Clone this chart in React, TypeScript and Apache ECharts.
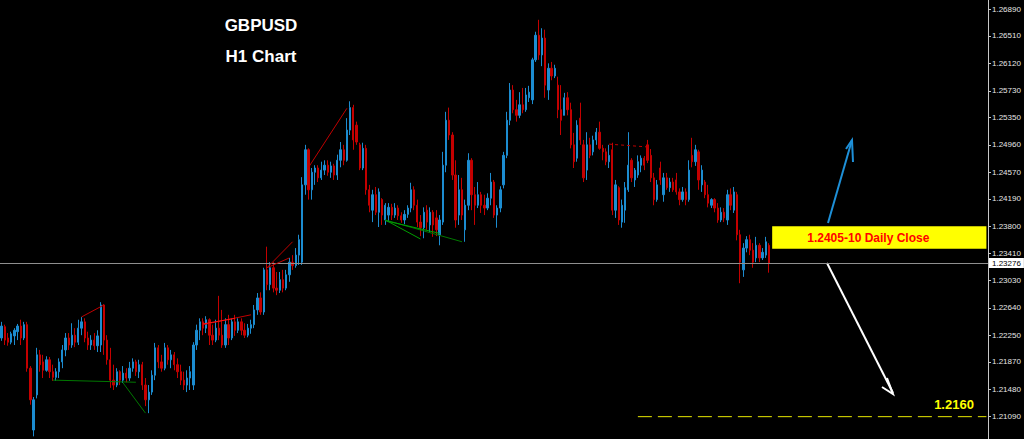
import React, { useEffect, useRef } from "react";
import * as echarts from "echarts";

// ---- data -------------------------------------------------------------
const SLOTS = 309;
const categories = Array.from({ length: SLOTS }, (_, i) => String(i));

// H1 bars: [open, close, low, high]
const barsA = [
  [1.2221, 1.2238, 1.2217, 1.2244], [1.2237, 1.2218, 1.2211, 1.224], [1.2221, 1.2215, 1.221, 1.2228],
  [1.2215, 1.2227, 1.2212, 1.223], [1.2224, 1.2232, 1.2211, 1.2235], [1.223, 1.2238, 1.2218, 1.2241],
  [1.2238, 1.2221, 1.2211, 1.2247], [1.2221, 1.224, 1.2218, 1.2244], [1.224, 1.2178, 1.2173, 1.2244],
  [1.2178, 1.2133, 1.2126, 1.2181], [1.209, 1.2133, 1.2081, 1.2137], [1.214, 1.2197, 1.2135, 1.2207],
  [1.2197, 1.2183, 1.2173, 1.2204], [1.2187, 1.2175, 1.2164, 1.2197], [1.2175, 1.219, 1.2173, 1.2195],
  [1.219, 1.2173, 1.2164, 1.2194], [1.2173, 1.2165, 1.216, 1.2183], [1.2165, 1.2173, 1.216, 1.2178],
  [1.2173, 1.2187, 1.2164, 1.2192], [1.2187, 1.2204, 1.2178, 1.2211], [1.2204, 1.2221, 1.2195, 1.2228],
  [1.2221, 1.2211, 1.2204, 1.2228], [1.2211, 1.2225, 1.2207, 1.2242], [1.2225, 1.2215, 1.2208, 1.2235],
  [1.2215, 1.2235, 1.2211, 1.2247], [1.2235, 1.2244, 1.2225, 1.2251], [1.2244, 1.2221, 1.2215, 1.2249],
  [1.2221, 1.2211, 1.2204, 1.223], [1.2211, 1.2218, 1.2204, 1.2225], [1.2218, 1.221, 1.2204, 1.2228],
  [1.221, 1.2224, 1.2201, 1.2232], [1.2211, 1.2268, 1.2201, 1.2272], [1.2268, 1.2218, 1.2197, 1.2269],
  [1.2218, 1.219, 1.2183, 1.2225], [1.219, 1.2161, 1.215, 1.2207], [1.2161, 1.2154, 1.2147, 1.2183],
  [1.2154, 1.2173, 1.2151, 1.2178], [1.2173, 1.2161, 1.2154, 1.2175], [1.2161, 1.2171, 1.2157, 1.2181],
  [1.2171, 1.2164, 1.2158, 1.2178], [1.2164, 1.2178, 1.216, 1.2187],
];
const barsB = [
  [1.2178, 1.2187, 1.2173, 1.2192], [1.2187, 1.2173, 1.2167, 1.219], [1.2173, 1.2183, 1.2164, 1.219],
  [1.2183, 1.2154, 1.2147, 1.2187], [1.2154, 1.2133, 1.2124, 1.2164], [1.2133, 1.2144, 1.2114, 1.2154],
  [1.2144, 1.2168, 1.214, 1.2175], [1.2168, 1.2207, 1.2161, 1.2214], [1.2207, 1.2187, 1.2178, 1.2211],
  [1.2187, 1.2178, 1.2173, 1.2197], [1.2178, 1.2207, 1.2175, 1.2214], [1.2207, 1.219, 1.2183, 1.2211],
  [1.219, 1.2197, 1.2178, 1.2204], [1.2197, 1.2183, 1.2175, 1.2201], [1.2183, 1.2173, 1.2164, 1.2192],
  [1.2173, 1.2161, 1.2154, 1.2183], [1.2161, 1.2154, 1.2147, 1.2173], [1.2154, 1.2164, 1.2144, 1.2175],
  [1.2164, 1.2173, 1.2147, 1.2181], [1.2154, 1.2211, 1.2147, 1.2215], [1.2211, 1.2232, 1.2204, 1.224],
  [1.2232, 1.2244, 1.2218, 1.2249], [1.2244, 1.2235, 1.2225, 1.2249], [1.2235, 1.2247, 1.2228, 1.2252],
  [1.2247, 1.2225, 1.2211, 1.2249], [1.2225, 1.2218, 1.2211, 1.224], [1.2218, 1.2235, 1.2215, 1.2247],
  [1.2235, 1.2225, 1.2218, 1.2281], [1.2225, 1.2211, 1.2207, 1.2261], [1.2211, 1.224, 1.2207, 1.2249],
  [1.224, 1.2221, 1.2211, 1.2254], [1.2221, 1.2244, 1.2218, 1.2249], [1.2244, 1.2232, 1.2224, 1.2254],
  [1.2232, 1.2244, 1.2228, 1.2249], [1.2244, 1.2232, 1.2225, 1.2249], [1.2232, 1.2225, 1.2221, 1.2242],
  [1.2225, 1.2235, 1.2222, 1.2241], [1.2235, 1.224, 1.2227, 1.2247], [1.224, 1.2261, 1.2235, 1.2268],
  [1.2261, 1.2278, 1.2254, 1.2285], [1.2278, 1.2258, 1.2254, 1.2286],
];
const barsC = [
  [1.2258, 1.2318, 1.2254, 1.2321], [1.2318, 1.2297, 1.2289, 1.2351], [1.2297, 1.2321, 1.2289, 1.2329],
  [1.2321, 1.2292, 1.2286, 1.2329], [1.2292, 1.2289, 1.2282, 1.2315], [1.2289, 1.2304, 1.2285, 1.2315],
  [1.2304, 1.2292, 1.2286, 1.2318], [1.2292, 1.2311, 1.2289, 1.2318], [1.2311, 1.2329, 1.2301, 1.2335],
  [1.2329, 1.2324, 1.2318, 1.2339], [1.2324, 1.2339, 1.2321, 1.2349], [1.2339, 1.2361, 1.2325, 1.2368],
  [1.2329, 1.2439, 1.2325, 1.245], [1.2439, 1.2489, 1.2425, 1.2496], [1.2489, 1.2432, 1.2418, 1.2491],
  [1.2432, 1.2457, 1.2418, 1.2463], [1.2457, 1.2463, 1.2439, 1.2467], [1.2463, 1.2449, 1.2443, 1.2467],
  [1.2449, 1.246, 1.2446, 1.2472], [1.246, 1.2467, 1.2453, 1.2474], [1.2467, 1.2457, 1.2452, 1.2474],
  [1.2457, 1.2466, 1.2449, 1.2472], [1.2466, 1.2453, 1.2446, 1.2469], [1.2453, 1.2474, 1.2446, 1.2482],
  [1.2474, 1.2489, 1.2464, 1.25], [1.2489, 1.2474, 1.2467, 1.2496], [1.2474, 1.2517, 1.2472, 1.2534],
  [1.2517, 1.2549, 1.251, 1.2558], [1.2549, 1.2503, 1.2489, 1.2553], [1.2524, 1.25, 1.2496, 1.2529],
  [1.2496, 1.2463, 1.246, 1.2499], [1.2463, 1.2491, 1.246, 1.2499], [1.2491, 1.2432, 1.2425, 1.2496],
  [1.2432, 1.241, 1.24, 1.2439], [1.2403, 1.2425, 1.2386, 1.2432], [1.2425, 1.24, 1.2396, 1.2436],
  [1.24, 1.2429, 1.2379, 1.2434], [1.2418, 1.2396, 1.2382, 1.242], [1.2389, 1.241, 1.2382, 1.2413],
  [1.2396, 1.2407, 1.2386, 1.2413],
];
const barsD = [
  [1.2407, 1.2396, 1.2389, 1.2412], [1.2396, 1.2406, 1.2392, 1.2413], [1.2406, 1.2395, 1.2389, 1.241],
  [1.2395, 1.2389, 1.2385, 1.24], [1.2389, 1.2397, 1.2383, 1.2403], [1.2397, 1.2406, 1.2392, 1.241],
  [1.2406, 1.2432, 1.24, 1.2442], [1.2432, 1.241, 1.2403, 1.2437], [1.241, 1.2386, 1.2379, 1.2418],
  [1.2386, 1.2378, 1.2366, 1.2396], [1.2378, 1.24, 1.2363, 1.2407], [1.2403, 1.2386, 1.2375, 1.241],
  [1.2382, 1.24, 1.2372, 1.2407], [1.24, 1.2382, 1.2365, 1.2403], [1.2392, 1.2375, 1.2366, 1.2403],
  [1.2368, 1.2389, 1.2353, 1.2396], [1.2386, 1.2467, 1.2382, 1.2486], [1.2467, 1.2531, 1.2457, 1.2543],
  [1.2531, 1.251, 1.2503, 1.2549], [1.251, 1.2453, 1.2446, 1.2514], [1.2453, 1.2389, 1.2378, 1.2474],
  [1.2396, 1.2432, 1.2382, 1.2453], [1.2432, 1.2396, 1.2389, 1.2449], [1.2375, 1.241, 1.2358, 1.2418],
  [1.241, 1.2474, 1.2403, 1.2484], [1.2474, 1.2425, 1.2403, 1.2477], [1.2425, 1.241, 1.2382, 1.2436],
  [1.241, 1.2425, 1.2406, 1.2443], [1.2425, 1.241, 1.2399, 1.2429], [1.241, 1.2406, 1.2396, 1.2425],
  [1.2406, 1.242, 1.2403, 1.2427], [1.242, 1.2443, 1.241, 1.2456], [1.2443, 1.2396, 1.2392, 1.2446],
  [1.2396, 1.2406, 1.2378, 1.241], [1.2406, 1.2432, 1.24, 1.2437], [1.2439, 1.2481, 1.2434, 1.2486],
  [1.2481, 1.2531, 1.2477, 1.2543], [1.2531, 1.2574, 1.2524, 1.2584], [1.2574, 1.2546, 1.2541, 1.2581],
  [1.2546, 1.2538, 1.2529, 1.256],
];
const barsE = [
  [1.2538, 1.2553, 1.2534, 1.2571], [1.2553, 1.2546, 1.2541, 1.2577], [1.2546, 1.2567, 1.2543, 1.2577],
  [1.2563, 1.2571, 1.2557, 1.258], [1.256, 1.2617, 1.2554, 1.262], [1.2617, 1.2652, 1.2614, 1.2657],
  [1.2652, 1.2624, 1.2617, 1.2674], [1.2624, 1.2648, 1.2608, 1.2662], [1.2648, 1.2581, 1.2563, 1.266],
  [1.2574, 1.2605, 1.256, 1.2612], [1.2605, 1.2594, 1.2588, 1.2614], [1.2594, 1.2605, 1.2591, 1.261],
  [1.2581, 1.2546, 1.2534, 1.2593], [1.2546, 1.2531, 1.251, 1.2581], [1.2538, 1.2563, 1.2538, 1.257],
  [1.2563, 1.2546, 1.2538, 1.2571], [1.2546, 1.2496, 1.2491, 1.2556], [1.2496, 1.2472, 1.2463, 1.2513],
  [1.2477, 1.2524, 1.2472, 1.2531], [1.2534, 1.2503, 1.2496, 1.2556], [1.2496, 1.2449, 1.2443, 1.2503],
  [1.246, 1.2496, 1.2446, 1.2514], [1.2496, 1.2481, 1.2477, 1.2506], [1.2486, 1.2503, 1.2481, 1.2509],
  [1.2503, 1.2514, 1.2496, 1.252], [1.2514, 1.2491, 1.2489, 1.2529], [1.2491, 1.2486, 1.2474, 1.2496],
  [1.2486, 1.2472, 1.2467, 1.2491], [1.2472, 1.2481, 1.2463, 1.2496], [1.2489, 1.2403, 1.2396, 1.2499],
  [1.2403, 1.2439, 1.2392, 1.2446], [1.2435, 1.2389, 1.2382, 1.2437], [1.2386, 1.241, 1.2378, 1.2418],
  [1.2403, 1.2435, 1.2385, 1.2443], [1.2432, 1.2467, 1.2429, 1.2514], [1.2474, 1.2449, 1.2443, 1.2477],
  [1.2446, 1.246, 1.2436, 1.2463], [1.2453, 1.2472, 1.2449, 1.2481], [1.2467, 1.2477, 1.2457, 1.2481],
  [1.2477, 1.2467, 1.246, 1.248],
];
const barsF = [
  [1.2496, 1.2474, 1.247, 1.2503], [1.2481, 1.2449, 1.2443, 1.249], [1.2449, 1.2418, 1.241, 1.2456],
  [1.2418, 1.2439, 1.2415, 1.2446], [1.2463, 1.2446, 1.2439, 1.2472], [1.2425, 1.2449, 1.2415, 1.2456],
  [1.2449, 1.2435, 1.2432, 1.2456], [1.2435, 1.2443, 1.2429, 1.2449], [1.2443, 1.2432, 1.2429, 1.2449],
  [1.2446, 1.2429, 1.2425, 1.2456], [1.2429, 1.2418, 1.241, 1.2434], [1.2418, 1.2429, 1.2415, 1.2436],
  [1.2429, 1.2418, 1.241, 1.2434], [1.2418, 1.246, 1.2415, 1.2474], [1.2481, 1.2472, 1.2464, 1.2506],
  [1.2472, 1.2489, 1.2466, 1.2496], [1.2486, 1.2446, 1.2432, 1.2489], [1.2439, 1.246, 1.2429, 1.2467],
  [1.2443, 1.2425, 1.242, 1.2446], [1.2425, 1.2413, 1.2407, 1.2439], [1.241, 1.2418, 1.2406, 1.242],
  [1.2418, 1.2406, 1.24, 1.242], [1.2406, 1.2389, 1.2385, 1.2413], [1.2389, 1.24, 1.2386, 1.2407],
  [1.24, 1.2392, 1.2386, 1.2406], [1.2389, 1.2425, 1.2382, 1.2432], [1.2425, 1.241, 1.2403, 1.2434],
  [1.2403, 1.2429, 1.2399, 1.2436], [1.2425, 1.2368, 1.236, 1.2429], [1.2368, 1.2329, 1.2299, 1.2375],
  [1.2318, 1.2349, 1.2308, 1.2356], [1.2349, 1.2361, 1.2343, 1.2366], [1.2361, 1.2346, 1.2339, 1.2368],
  [1.2346, 1.2329, 1.2321, 1.2356], [1.2335, 1.2353, 1.2329, 1.2365], [1.2353, 1.2335, 1.2329, 1.2356],
  [1.2335, 1.2343, 1.2332, 1.2349], [1.2339, 1.2358, 1.2335, 1.2365], [1.2353, 1.23276, 1.2314, 1.2356],
];

const priceTicks = [
  1.2689, 1.2651, 1.2612, 1.2573, 1.2535, 1.2496, 1.2457, 1.2419,
  1.238, 1.2341, 1.2303, 1.2264, 1.2225, 1.2187, 1.2148, 1.2109,
];
const yMin = 1.20772;
const yMax = 1.27022;
const lastPrice = 1.23276;
const dailyCloseZone = [1.2348, 1.238];
const zoneCats = ["241", "308"];
const targetLine = [["199", 1.2109], ["308", 1.2109]];
const redDashed = [["190", 1.2497], ["202", 1.2493]];

const greenLines = [
  [["16", 1.2161], ["42", 1.2158]],
  [["38", 1.2157], ["45", 1.2114]],
  [["120", 1.2389], ["131", 1.2362]],
  [["120", 1.2389], ["144", 1.2358]],
  [["120", 1.2388], ["137", 1.237]],
];
const redLines = [
  [["25", 1.2251], ["32", 1.2268]],
  [["96", 1.2464], ["108", 1.2548]],
  [["83", 1.2321], ["91", 1.2358]],
  [["83", 1.2321], ["90", 1.2335]],
  [["63", 1.224], ["78", 1.2254]],
  [["63", 1.2241], ["73", 1.2249]],
];

const UP = "#1C8CD0";
const DOWN = "#C40000";
const FONT = "Liberation Sans, Arial, sans-serif";

export default function App() {
  const ref = useRef<HTMLDivElement>(null);

  useEffect(() => {
    document.body.style.margin = "0";
    document.body.style.background = "#000";
    const chart = echarts.init(ref.current as HTMLDivElement, null, { renderer: "svg" });
    const bars = [...barsA, ...barsB, ...barsC, ...barsD, ...barsE, ...barsF];

    const seg = (pts: any, color: string, type: any = "solid", width = 1) => ({
      type: "line",
      data: pts,
      symbol: "none",
      silent: true,
      z: 5,
      animation: false,
      lineStyle: { color, width, type },
    });

    chart.setOption({
      animation: false,
      backgroundColor: "#000",
      grid: { left: 0, right: 36, top: 0, bottom: 0 },
      xAxis: {
        type: "category",
        data: categories,
        show: false,
        boundaryGap: true,
      },
      yAxis: {
        type: "value",
        position: "right",
        min: yMin,
        max: yMax,
        scale: true,
        splitLine: { show: false },
        axisLine: { show: true, lineStyle: { color: "#c8c8c8", width: 1 } },
        axisTick: {
          show: true,
          length: 3,
          customValues: priceTicks,
          lineStyle: { color: "#c8c8c8" },
        },
        axisLabel: {
          customValues: priceTicks,
          formatter: (v: number) => v.toFixed(5),
          color: "#e6e6e6",
          fontSize: 8,
          fontFamily: FONT,
          margin: 4,
        },
      },
      graphic: [
        {
          type: "text",
          x: 261,
          y: 25,
          style: { text: "GBPUSD", fill: "#fff", font: `bold 17px ${FONT}`, align: "center", verticalAlign: "middle" },
        },
        {
          type: "text",
          x: 261,
          y: 56,
          style: { text: "H1 Chart", fill: "#fff", font: `bold 17px ${FONT}`, align: "center", verticalAlign: "middle" },
        },
        {
          type: "text",
          x: 954,
          y: 404,
          style: { text: "1.2160", fill: "#FFFF00", font: `bold 13px ${FONT}`, align: "center", verticalAlign: "middle" },
        },
        {
          type: "polyline",
          shape: { points: [[828, 223], [852, 140]] },
          style: { stroke: "#1E90D8", lineWidth: 2, fill: "none" },
        },
        {
          type: "polyline",
          shape: { points: [[846, 149], [852, 140], [853, 162]] },
          style: { stroke: "#1E90D8", lineWidth: 2, fill: "none" },
        },
        {
          type: "polyline",
          shape: { points: [[827, 263], [893, 393]] },
          style: { stroke: "#ffffff", lineWidth: 2, fill: "none" },
        },
        {
          type: "polyline",
          shape: { points: [[882, 387], [893, 394], [887, 378]] },
          style: { stroke: "#ffffff", lineWidth: 2, fill: "none" },
        },
      ],
      series: [
        {
          type: "candlestick",
          data: bars,
          barWidth: 1.8,
          silent: true,
          itemStyle: {
            color: UP,
            color0: DOWN,
            borderColor: UP,
            borderColor0: DOWN,
            borderWidth: 1,
          },
          markLine: {
            silent: true,
            precision: 5,
            symbol: ["none", "none"],
            lineStyle: { color: "#8f8f8f", width: 1, type: "solid" },
            label: {
              show: true,
              position: "end",
              formatter: lastPrice.toFixed(5),
              color: "#000",
              backgroundColor: "#fff",
              fontSize: 8,
              fontFamily: FONT,
              padding: [1, 3, 1, 3],
              distance: 1,
            },
            data: [{ yAxis: lastPrice }],
          },
          markArea: {
            silent: true,
            itemStyle: { color: "#FFFF00", opacity: 1 },
            label: {
              show: true,
              position: "inside",
              formatter: "1.2405-10 Daily Close",
              color: "#FF0000",
              fontWeight: "bold",
              fontSize: 12,
              fontFamily: FONT,
              offset: [-11, 0],
            },
            data: [[
              { coord: [zoneCats[0], dailyCloseZone[1]] },
              { coord: [zoneCats[1], dailyCloseZone[0]] },
            ]],
          },
        },
        ...greenLines.map((l, i) => seg(l, i >= 2 && i !== 3 ? "#00A000" : "#007800")),
        ...redLines.map((l, i) => seg(l, i === 5 ? "#FF1010" : "#C00000")),
        seg(redDashed, "#C00000", [3, 3]),
        seg(targetLine, "#E8E800", [14, 6]),
      ],
    });

    return () => chart.dispose();
  }, []);

  return <div ref={ref} style={{ width: 1024, height: 439 }} />;
}
